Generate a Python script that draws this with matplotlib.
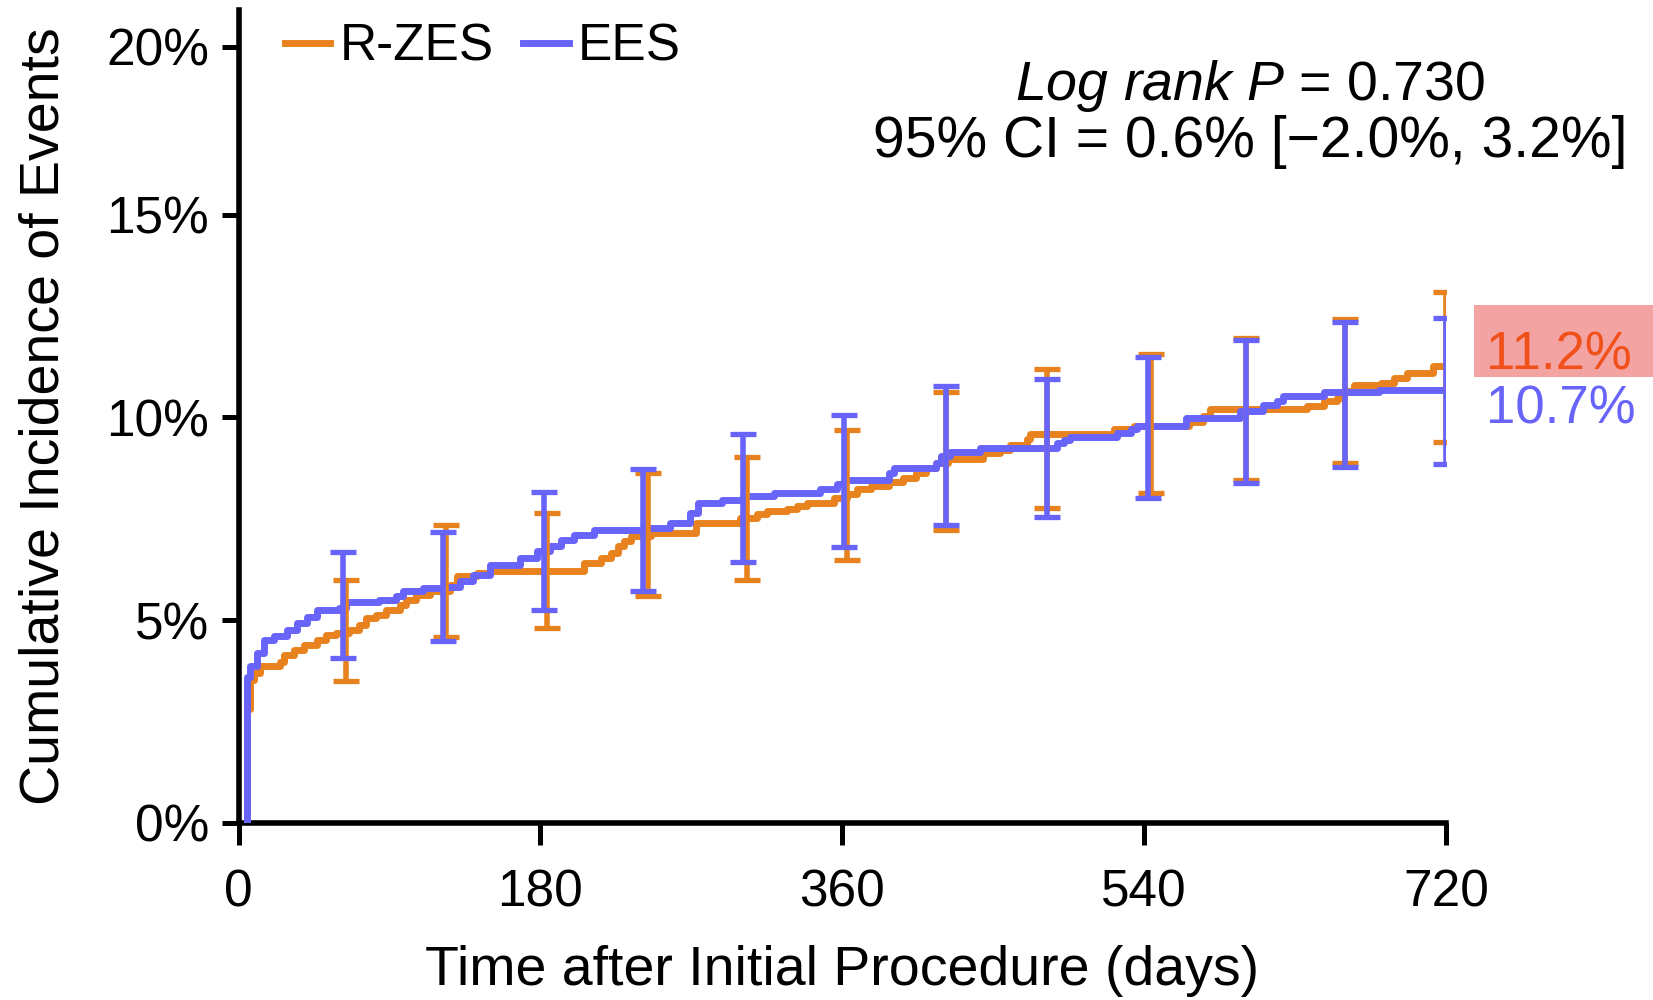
import matplotlib
matplotlib.use("Agg")
import matplotlib.pyplot as plt
import numpy as np
from matplotlib.patches import Rectangle
from matplotlib.ticker import FuncFormatter, NullLocator

# step curves (day, cumulative incidence %)
rzes_days = [5, 5, 7, 9, 13, 25, 27, 33, 39, 47, 52, 58, 66, 72, 76, 82, 88, 96, 100,
             106, 114, 126, 130, 142, 150, 206, 216, 222, 226, 230, 234, 246, 273, 299,
             309, 315, 327, 333, 339, 355, 363, 369, 377, 388, 396, 404, 410, 416, 423,
             444, 454, 460, 470, 472, 522, 534, 567, 575, 579, 637, 647, 655, 659, 665,
             681, 689, 697, 712, 720]
rzes_pct = [0, 2.8, 3.53, 3.70, 3.86, 3.98, 4.15, 4.27, 4.40, 4.52, 4.64, 4.68, 4.77,
            4.89, 5.05, 5.14, 5.26, 5.38, 5.51, 5.63, 5.71, 5.88, 6.08, 6.17, 6.22, 6.41,
            6.54, 6.67, 6.82, 6.95, 7.07, 7.16, 7.40, 7.52, 7.61, 7.69, 7.75, 7.81, 7.88,
            8.02, 8.12, 8.24, 8.32, 8.40, 8.51, 8.63, 8.76, 8.88, 8.98, 9.13, 9.21, 9.33,
            9.46, 9.60, 9.72, 9.78, 9.90, 10.03, 10.22, 10.29, 10.40, 10.48, 10.65, 10.81,
            10.85, 10.98, 11.10, 11.27, 11.27]

ees_days = [5, 5, 7, 11, 15, 21, 29, 35, 41, 47, 60, 64, 84, 94, 98, 110, 122, 132, 140,
            150, 168, 178, 186, 192, 200, 212, 244, 257, 269, 274, 288, 301, 319, 347,
            357, 361, 388, 391, 416, 419, 424, 442, 488, 492, 496, 524, 532, 536, 565,
            597, 611, 619, 623, 647, 680, 720]
ees_pct = [0, 3.61, 3.86, 4.19, 4.52, 4.60, 4.77, 4.93, 5.09, 5.26, 5.30, 5.44, 5.51,
           5.59, 5.71, 5.79, 5.82, 5.96, 6.12, 6.37, 6.54, 6.70, 6.82, 6.99, 7.11, 7.23,
           7.28, 7.40, 7.65, 7.88, 7.96, 8.06, 8.14, 8.24, 8.35, 8.47, 8.64, 8.76, 8.88,
           9.06, 9.15, 9.25, 9.36, 9.44, 9.52, 9.62, 9.72, 9.80, 9.99, 10.15, 10.32,
           10.40, 10.52, 10.62, 10.68, 10.68]

# 95% CI bars
rzes_bar_days = [64, 124, 184, 244, 303, 363, 422, 482, 544, 601, 660, 720]
rzes_bar_hi = [6.00, 7.36, 7.65, 8.62, 9.03, 9.70, 10.63, 11.19, 11.56, 11.97, 12.42, 13.10]
rzes_bar_lo = [3.51, 4.58, 4.80, 5.61, 5.98, 6.48, 7.22, 7.77, 8.14, 8.45, 8.88, 9.39]

ees_bar_days = [62, 122, 182, 241, 301, 361, 422, 482, 542, 601, 660, 720]
ees_bar_hi = [6.68, 7.18, 8.17, 8.72, 9.60, 10.07, 10.77, 10.94, 11.50, 11.91, 12.36, 12.46]
ees_bar_lo = [4.06, 4.49, 5.26, 5.71, 6.43, 6.81, 7.36, 7.55, 8.02, 8.39, 8.78, 8.86]

# 2-year rates printed right of the plot
end_labels = ["11.2%", "10.7%"]

x_ticks = [0, 180, 360, 540, 720]
y_ticks = [0, 5, 10, 15, 20]

ORANGE = "#E8821E"
BLUE = "#6864FA"

plt.rcParams["font.family"] = ["Liberation Sans", "DejaVu Sans"]
plt.rcParams["mathtext.fontset"] = "custom"
plt.rcParams["mathtext.it"] = "Liberation Sans:italic"
plt.rcParams["mathtext.rm"] = "Liberation Sans"

# the original axis has its 15-20% band squeezed
TOP_SQUEEZE = 0.8276


def squeeze(y):
    y = np.asarray(y, dtype=float)
    return np.where(y <= 15, y, 15 + (y - 15) * TOP_SQUEEZE)


def unsqueeze(y):
    y = np.asarray(y, dtype=float)
    return np.where(y <= 15, y, 15 + (y - 15) / TOP_SQUEEZE)


def draw_bars(ax, days, lo, hi, color):
    lo = np.array(lo)
    hi = np.array(hi)
    ax.errorbar(days, (lo + hi) / 2, yerr=(hi - lo) / 2, fmt="none", ecolor=color,
                elinewidth=4.0, capsize=9.5, capthick=3.8, zorder=4)


fig = plt.figure(figsize=(16.53, 10), dpi=100)
ax = fig.add_axes([0.1443, 0.177, 0.7305, 0.813])
ax.set_yscale("function", functions=(squeeze, unsqueeze))

ax.step(rzes_days, rzes_pct, where="post", color=ORANGE, lw=5, label="R-ZES", zorder=3)
ax.step(ees_days, ees_pct, where="post", color=BLUE, lw=5, label="EES", zorder=3)
draw_bars(ax, rzes_bar_days, rzes_bar_lo, rzes_bar_hi, ORANGE)
draw_bars(ax, ees_bar_days, ees_bar_lo, ees_bar_hi, BLUE)

ax.set_xlim(0, 720)
ax.set_ylim(0, 21.1)
ax.set_xticks(x_ticks)
ax.set_yticks(y_ticks)
ax.yaxis.set_major_formatter(FuncFormatter(lambda v, _: f"{v:.0f}%"))
ax.yaxis.set_minor_locator(NullLocator())

for side in ["top", "right"]:
    ax.spines[side].set_visible(False)
for side in ["left", "bottom"]:
    ax.spines[side].set_linewidth(4)
ax.tick_params(axis="x", direction="out", length=16, width=3.6, labelsize=37, pad=17)
ax.tick_params(axis="y", direction="out", length=12, width=3.6, labelsize=37, pad=9)

ax.set_xlabel("Time after Initial Procedure (days)", fontsize=40)
ax.set_ylabel("Cumulative Incidence of Events", fontsize=40)
ax.xaxis.set_label_coords(0.5, -0.15)
ax.yaxis.set_label_coords(-0.139, 0.5)

ax.legend(loc="center left", bbox_to_anchor=(0.0385, 0.9545), frameon=False,
          fontsize=37, handlelength=0.88, handletextpad=0.18, columnspacing=0.58,
          ncol=2, borderpad=0, borderaxespad=0)

fig.text(0.7562, 0.900, r"$\it{Log\ rank\ P}$ = 0.730", ha="center", va="baseline",
         fontsize=40)
fig.text(0.7562, 0.843, "95% CI = 0.6% [\u22122.0%, 3.2%]", ha="center", va="baseline",
         fontsize=41)

fig.add_artist(Rectangle((0.8917, 0.623), 0.1083, 0.072, transform=fig.transFigure,
                         facecolor="#F4A3A3", edgecolor="none", zorder=0))
fig.text(0.899, 0.644, end_labels[0], ha="left", va="center", fontsize=38,
         color="#F0501A")
fig.text(0.899, 0.591, end_labels[1], ha="left", va="center", fontsize=38, color=BLUE)

fig.savefig("out.png", dpi=100)
